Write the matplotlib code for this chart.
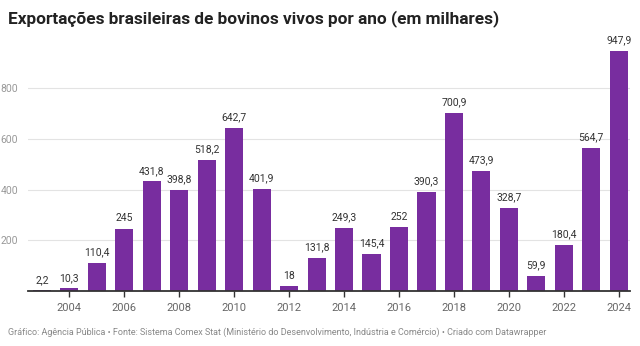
import matplotlib
matplotlib.use('Agg')
import matplotlib.pyplot as plt

# Exportações de bovinos vivos (milhares de cabeças)
anos = list(range(2003, 2025))
valores = [2.2, 10.3, 110.4, 245, 431.8, 398.8, 518.2, 642.7, 401.9, 18,
           131.8, 249.3, 145.4, 252, 390.3, 700.9, 473.9, 328.7, 59.9,
           180.4, 564.7, 947.9]
anos_ticks = list(range(2004, 2025, 2))
y_ticks = [200, 400, 600, 800]

plt.rcParams['font.family'] = ['Roboto', 'DejaVu Sans']

fig = plt.figure(figsize=(6.4, 3.46), dpi=100)
ax = fig.add_axes([0.044, 0.159, 0.940, 0.733])

cor = '#782d9f'
ax.bar(anos, valores, width=0.66, color=cor, zorder=3)

for a, v in zip(anos, valores):
    txt = f'{v:g}'.replace('.', ',')
    ax.annotate(txt, (a, v), xytext=(0, 4), textcoords='offset points',
                ha='center', va='bottom', fontsize=7.5, color='#333333')

ax.set_xlim(2002.5, 2024.4)
ax.set_ylim(0, 1000)

ax.set_yticks(y_ticks)
ax.set_yticklabels([str(t) for t in y_ticks])
ax.tick_params(axis='y', length=0, labelsize=7.5, labelcolor='#999999')
for lbl in ax.get_yticklabels():
    lbl.set_horizontalalignment('left')
ax.yaxis.set_tick_params(pad=20)
ax.grid(axis='y', color='#e3e3e3', linewidth=0.8, zorder=0)

ax.set_xticks(anos_ticks)
ax.set_xticklabels([str(a) for a in anos_ticks])
ax.tick_params(axis='x', length=4, width=1, color='#333333', pad=5,
               labelsize=8, labelcolor='#666666')

for s in ['top', 'right', 'left']:
    ax.spines[s].set_visible(False)
ax.spines['bottom'].set_color('#333333')
ax.spines['bottom'].set_linewidth(1.3)
ax.spines['bottom'].set_zorder(4)

fig.text(0.0125, 0.945, 'Exportações brasileiras de bovinos vivos por ano (em milhares)',
         fontsize=12.4, fontweight='bold', color='#222222', va='center')
fig.text(0.0125, 0.040,
         'Gráfico: Agência Pública • Fonte: Sistema Comex Stat (Ministério do '
         'Desenvolvimento, Indústria e Comércio) • Criado com Datawrapper',
         fontsize=6.5, color='#888888', va='center')

fig.savefig('out.png', dpi=100, facecolor='white')
